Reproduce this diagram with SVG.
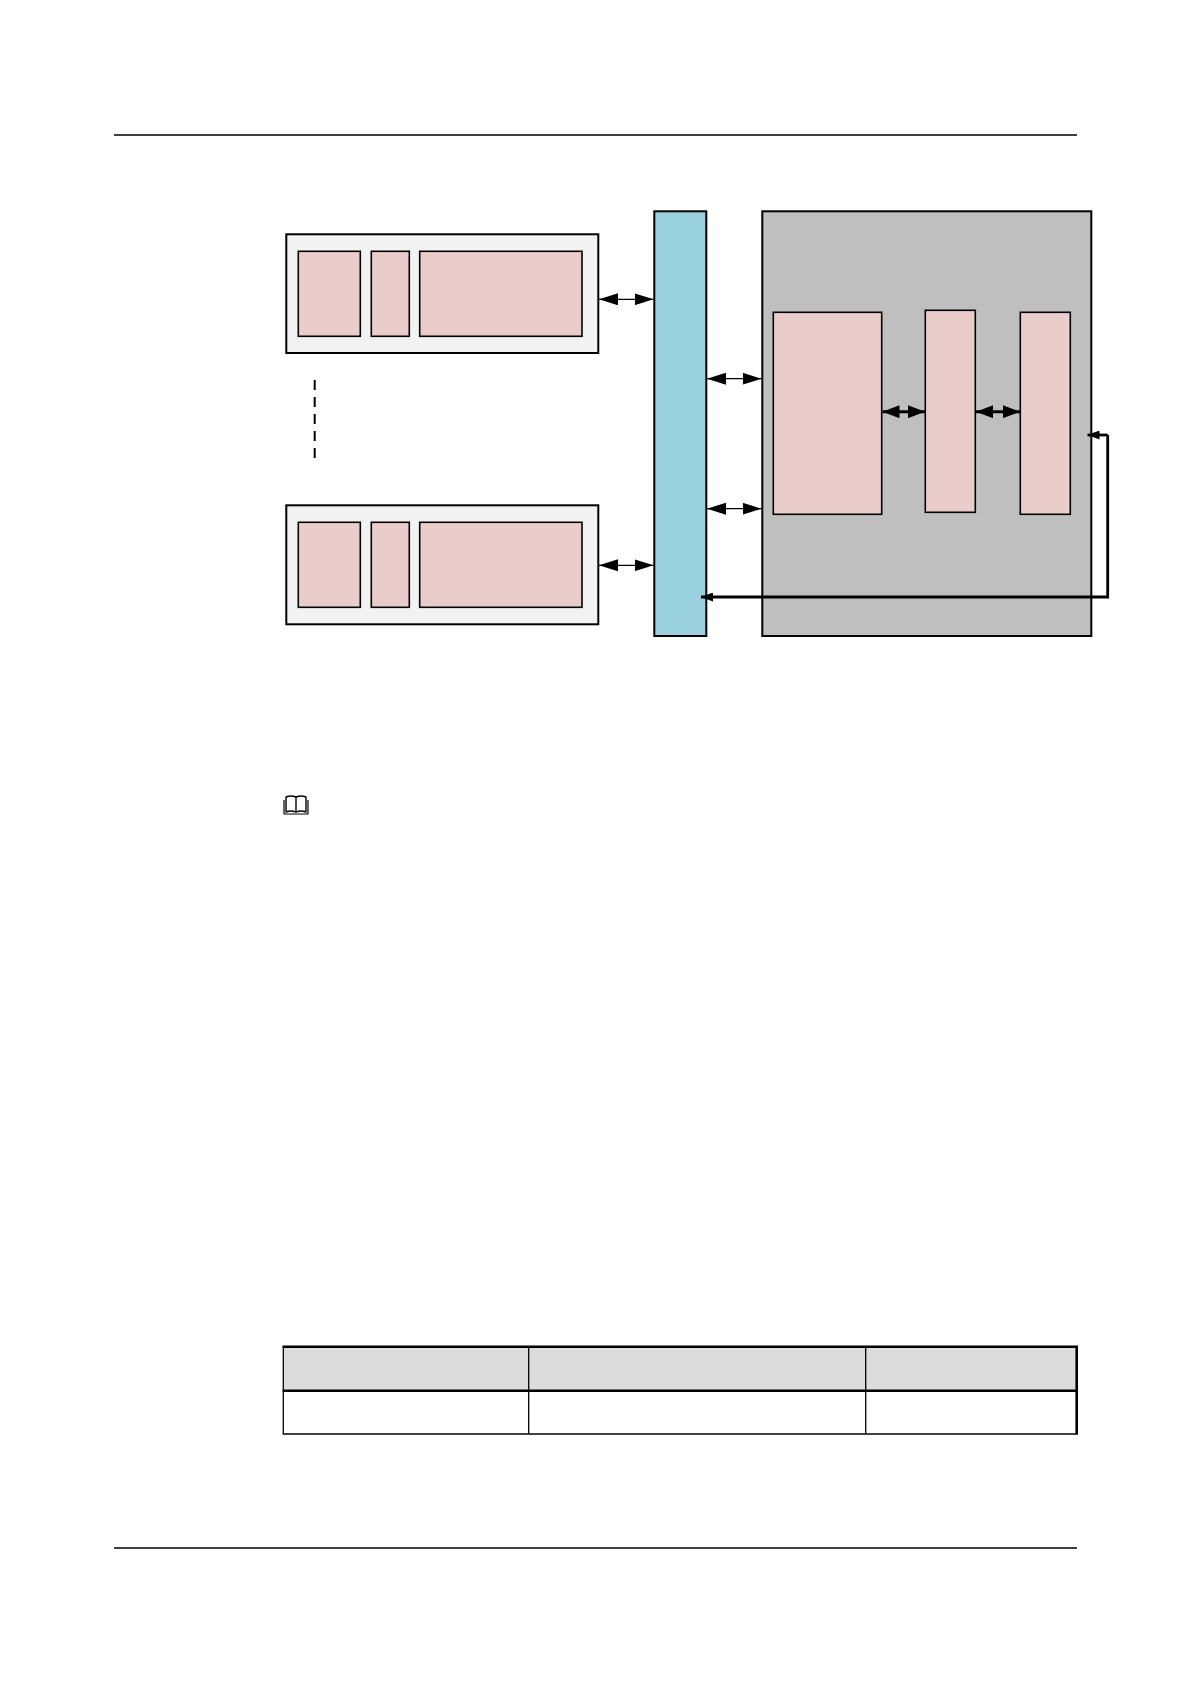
<svg xmlns="http://www.w3.org/2000/svg" width="1191" height="1684" viewBox="0 0 1191 1684">
<style>
.rule{stroke:#000;stroke-width:1.5;fill:none}
.outer{fill:#f2f2f2;stroke:#000;stroke-width:2}
.pink{fill:#eacdcb;stroke:#000;stroke-width:1.6}
.bus{fill:#9ad1df;stroke:#000;stroke-width:2}
.gray{fill:#bfbfbf;stroke:#000;stroke-width:2}
.thin{stroke:#000;stroke-width:1.3;fill:none}
.thick{stroke:#000;stroke-width:3;fill:none}
.fb{stroke:#000;stroke-width:2.8;fill:none}
.th{fill:#dcdcdc}
.tl{stroke:#000;stroke-width:1.3}
.tb{stroke:#000;stroke-width:2.6}
</style>
<defs>
<marker id="ah" viewBox="0 0 19 12" refX="19" refY="6" markerWidth="19" markerHeight="12" markerUnits="userSpaceOnUse" orient="auto-start-reverse"><path d="M0,0 L19,6 L0,12 Z" fill="#000"/></marker>
<marker id="ah2" viewBox="0 0 17 13" refX="17" refY="6.5" markerWidth="17" markerHeight="13" markerUnits="userSpaceOnUse" orient="auto-start-reverse"><path d="M0,0 L17,6.5 L0,13 Z" fill="#000"/></marker>
<marker id="ah3" viewBox="0 0 12 9" refX="12" refY="4.5" markerWidth="12" markerHeight="9" markerUnits="userSpaceOnUse" orient="auto"><path d="M0,0 L12,4.5 L0,9 Z" fill="#000"/></marker>
</defs>
<rect width="1191" height="1684" fill="#fff"/>
<line class="rule" x1="114" y1="135" x2="1077" y2="135"/>
<line class="rule" x1="114" y1="1548" x2="1077" y2="1548"/>

<g id="node-top">
<rect class="outer" x="286.3" y="234.3" width="312" height="118.7"/>
<rect class="pink" x="298.3" y="251.3" width="62" height="85"/>
<rect class="pink" x="371.3" y="251.3" width="38" height="85"/>
<rect class="pink" x="419.7" y="251.3" width="162.3" height="85"/>
</g>
<g id="node-bottom">
<rect class="outer" x="286.3" y="505.3" width="312" height="119"/>
<rect class="pink" x="298.3" y="522.3" width="62" height="85"/>
<rect class="pink" x="371.3" y="522.3" width="38" height="85"/>
<rect class="pink" x="419.7" y="522.3" width="162.3" height="85"/>
</g>
<g id="node-bus">
<rect class="bus" x="654.3" y="211.3" width="52" height="424.7"/>
</g>
<g id="node-host">
<rect class="gray" x="762.3" y="211.3" width="329" height="424.7"/>
</g>
<g id="node-a"><rect class="pink" x="773.3" y="312.3" width="108.4" height="202"/></g>
<g id="node-b"><rect class="pink" x="925.3" y="310.3" width="50" height="202"/></g>
<g id="node-c"><rect class="pink" x="1020.3" y="312.3" width="50" height="202"/></g>

<g id="connectors">
<line x1="314.7" y1="380" x2="314.7" y2="462" stroke="#000" stroke-width="2" stroke-dasharray="10,7"/>
<line class="thin" x1="599" y1="299.3" x2="653.5" y2="299.3" marker-start="url(#ah)" marker-end="url(#ah)"/>
<line class="thin" x1="599" y1="565.3" x2="653.5" y2="565.3" marker-start="url(#ah)" marker-end="url(#ah)"/>
<line class="thin" x1="707" y1="378.7" x2="761.5" y2="378.7" marker-start="url(#ah)" marker-end="url(#ah)"/>
<line class="thin" x1="707" y1="508.7" x2="761.5" y2="508.7" marker-start="url(#ah)" marker-end="url(#ah)"/>
<line class="thick" x1="882.5" y1="411.7" x2="925" y2="411.7" marker-start="url(#ah2)" marker-end="url(#ah2)"/>
<line class="thick" x1="976" y1="411.7" x2="1020" y2="411.7" marker-start="url(#ah2)" marker-end="url(#ah2)"/>
<polyline class="fb" points="1107.7,435 1107.7,597 701,597" marker-end="url(#ah3)"/>
<line class="fb" x1="1107.7" y1="435" x2="1087.5" y2="435" marker-end="url(#ah3)"/>
</g>

<g id="note-icon" fill="none" stroke="#000" stroke-width="1.4" stroke-linejoin="round">
<path d="M286,797 Q291,795 296,797 Q301,795 306,797 L306,812 Q301,810 296,812 Q291,810 286,812 Z"/>
<line x1="296" y1="797" x2="296" y2="812"/>
<path d="M284,800 L284,814 L308,814 L308,800" stroke-width="1.2"/>
</g>

<g id="table">
<rect class="th" x="283.3" y="1346.7" width="793.4" height="44"/>
<line class="tl" x1="283.3" y1="1346" x2="283.3" y2="1434"/>
<line class="tl" x1="528.7" y1="1346" x2="528.7" y2="1434"/>
<line class="tl" x1="865.7" y1="1346" x2="865.7" y2="1434"/>
<line class="tb" x1="1076.7" y1="1346" x2="1076.7" y2="1434"/>
<line class="tb" x1="282.6" y1="1346.7" x2="1078" y2="1346.7"/>
<line class="tb" x1="282.6" y1="1390.8" x2="1078" y2="1390.8"/>
<line class="tl" x1="282.6" y1="1434" x2="1078" y2="1434"/>
</g>
</svg>
